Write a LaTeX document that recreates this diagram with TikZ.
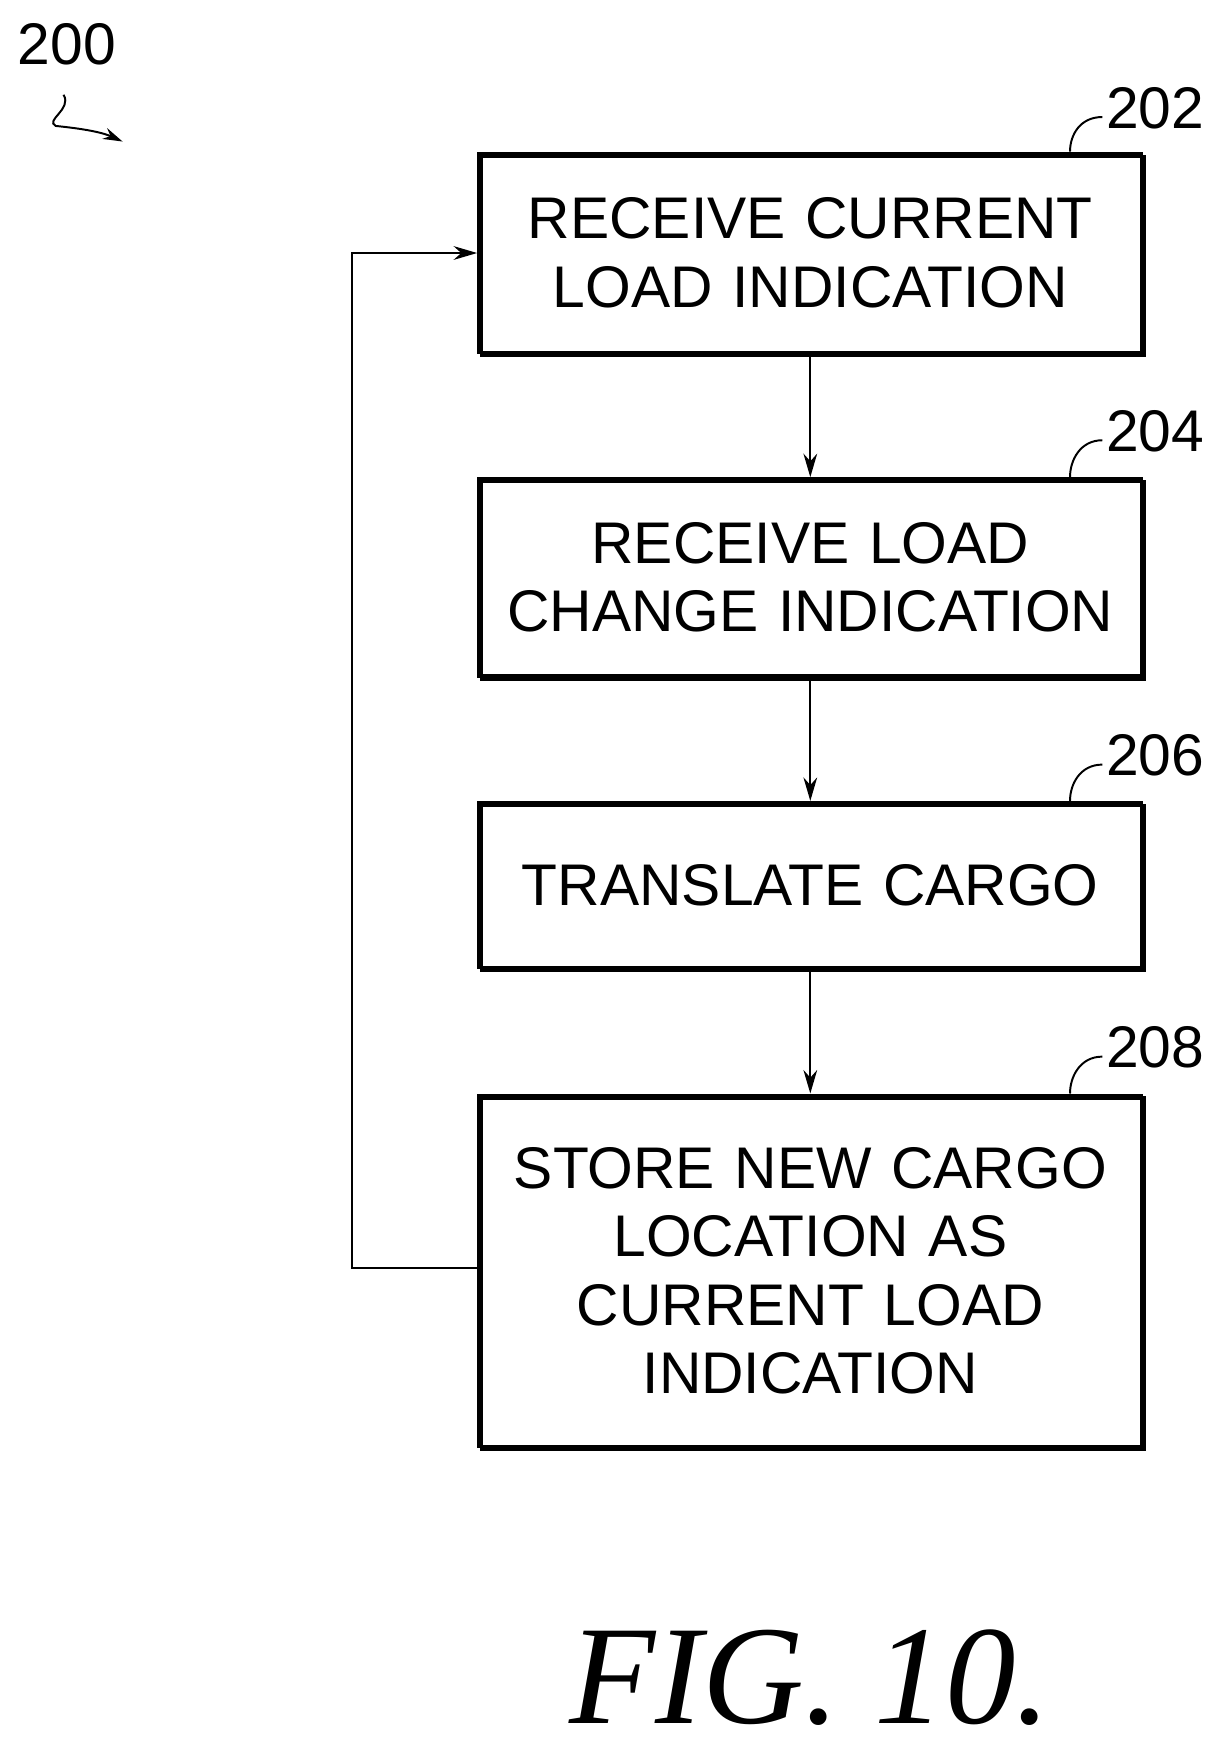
\documentclass[tikz,border=0pt]{standalone}
\usepackage{fontspec}
\setmainfont{Liberation Sans}
\newfontfamily\figfont{Liberation Serif}
\usetikzlibrary{arrows.meta}
\begin{document}
\begin{tikzpicture}[x=0.02cm,y=-0.02cm,
  box/.style={draw,line width=1.6pt,text width=585*0.02cm,minimum width=595*0.02cm,align=center,inner sep=0pt,
    font=\fontsize{30}{35}\selectfont, preaction={draw,line width=1.6pt,transform canvas={xshift=1.5pt,yshift=-1.5pt}}},
  conn/.style={line width=1.1pt,-{Stealth[length=12pt,width=7pt]}},
  lbl/.style={font=\fontsize{30}{36}\selectfont,anchor=west,inner sep=0pt},
  lead/.style={line width=1pt}]
\useasboundingbox (0,0) rectangle (1100,1571);
\node[box,minimum height=179*0.02cm] (b1) at (727,227) {RECEIVE CURRENT\\LOAD INDICATION};
\node[box,minimum height=177*0.02cm] (b2) at (727,518) {RECEIVE LOAD\\CHANGE INDICATION};
\node[box,minimum height=148*0.02cm] (b3) at (727,794) {TRANSLATE CARGO};
\node[box,minimum height=315*0.02cm] (b4) at (727,1140) {STORE NEW CARGO\\LOCATION AS\\CURRENT LOAD\\INDICATION};
\draw[conn] (b1) -- (b2);
\draw[conn] (b2) -- (b3);
\draw[conn] (b3) -- (b4);
\coordinate (c1) at (316,1138);
\coordinate (c2) at (316,227);
\draw[conn] (b4.west |- c1) -- (c1) -- (c2) -- (b1.west);
\node[lbl] (l1) at (992,97) {202};
\node[lbl] (l2) at (992,387) {204};
\node[lbl] (l3) at (992,678) {206};
\node[lbl] (l4) at (992,940) {208};
\foreach \l/\b in {l1/b1,l2/b2,l3/b3,l4/b4}{
  \coordinate (s\l) at ([xshift=-3*0.02cm,yshift=-8*0.02cm]\l.west);
  \draw[lead] (s\l) .. controls +(-20,0) and +(0,-15) .. (\b.north -| {(960,0)});
}
\node[font=\fontsize{30}{36}\selectfont,inner sep=0pt] (l0) at (60,40) {200};
\coordinate (a0) at (110,127);
\draw[lead,-{Stealth[length=10pt,width=6pt]}] (57,85) .. controls (65,98) and (40,108) .. (50,113) .. controls (70,115) and (90,118) .. (a0);
\node[font=\figfont\itshape\fontsize{72}{76}\selectfont,inner sep=0pt] (fig) at (727,1505) {FIG.\ 10.};
\end{tikzpicture}
\end{document}
